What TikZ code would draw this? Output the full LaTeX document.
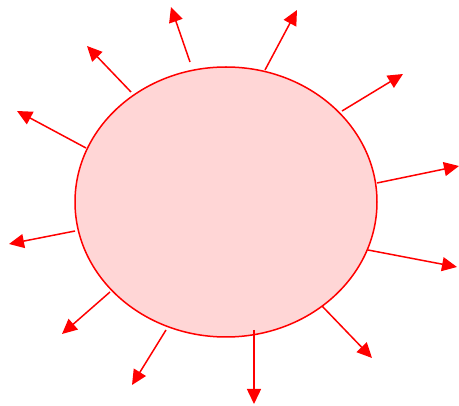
\documentclass[tikz,border=0pt]{standalone}
\usetikzlibrary{shapes.geometric,arrows.meta}
\begin{document}
\begin{tikzpicture}[x=1pt, y=-1pt, >={Triangle[length=15pt,width=14pt]}]
\useasboundingbox (0,0) rectangle (459,406);
\node[draw=red, line width=1.5pt, fill=red!16, ellipse, inner sep=0, minimum width=302pt, minimum height=270pt] (sun) at (226,202) {};
\foreach \sx/\sy/\ex/\ey [count=\i] in {190/62/171/7, 265/70/297/10, 131/92/87/46, 86/148/17/111, 75/231/9/244, 110/292/62/334, 166/330/132/385, 254/330/254/404, 322/306/372/358, 368/250/457/267, 377/183/459/166, 342/111/403/74}
{
  \coordinate (from\i) at (\sx,\sy);
  \coordinate (ray\i) at (\ex,\ey);
  \draw[->, red, line width=1.5pt] (from\i) -- (ray\i);
}
\end{tikzpicture}
\end{document}
